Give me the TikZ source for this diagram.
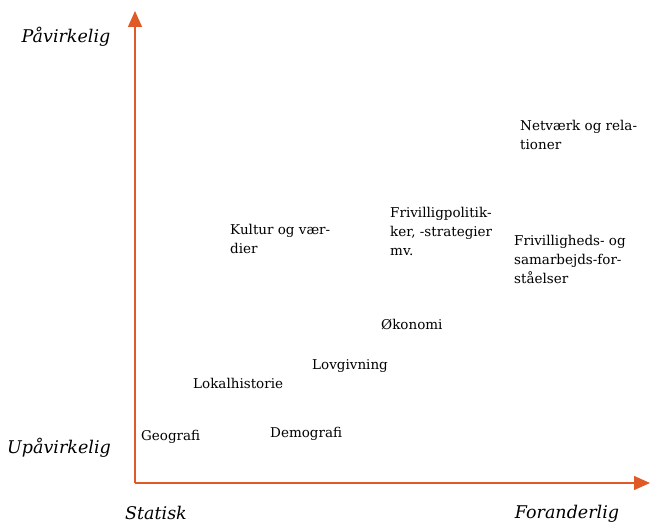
\documentclass[tikz,border=0pt]{standalone}
\usepackage{fontspec}
\setmainfont{DejaVu Serif}
\usetikzlibrary{arrows.meta}
\definecolor{axisorange}{RGB}{224,90,40}
\begin{document}
\begin{tikzpicture}[x=1pt,y=-1pt,
  axisline/.style={draw=axisorange,line width=1.3pt,-{Triangle[length=16pt,width=14pt]}},
  item/.style={anchor=west,align=left,inner sep=0pt,font=\fontsize{13.5}{19}\selectfont},
  axislabel/.style={inner sep=0pt,font=\fontsize{17.5}{20}\selectfont\itshape}]
\useasboundingbox (0,0) rectangle (650,526);
\coordinate (O) at (135,483);
\coordinate (Xend) at (650,483);
\coordinate (Yend) at (135,11);
\draw[axisline] (O) -- (Xend);
\draw[axisline] (O) -- (Yend);
\node[axislabel] (pav) at (66,37) {Påvirkelig};
\node[axislabel] (upav) at (59,448) {Upåvirkelig};
\node[axislabel] (stat) at (156,513) {Statisk};
\node[axislabel] (foran) at (567,514) {Foranderlig};
\node[item] (geo) at (141,437) {Geografi};
\node[item] (demo) at (270,434) {Demografi};
\node[item] (lokal) at (193,383) {Lokalhistorie};
\node[item] (lov) at (312,366) {Lovgivning};
\node[item] (oko) at (381,325) {Økonomi};
\node[item] (kultur) at (230,238.5) {Kultur og vær-\\dier};
\node[item] (friv) at (390,231) {Frivilligpolitik-\\ker, -strategier\\mv.};
\node[item] (netv) at (520,134.5) {Netværk og rela-\\tioner};
\node[item] (frsam) at (514,259) {Frivilligheds- og\\samarbejds-for-\\ståelser};
\end{tikzpicture}
\end{document}
